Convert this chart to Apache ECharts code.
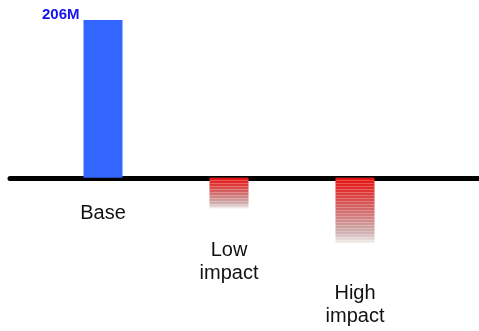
<!DOCTYPE html>
<html>
<head>
<meta charset="utf-8">
<script src="https://cdn.jsdelivr.net/npm/echarts@6/dist/echarts.min.js"></script>
<style>html,body{margin:0;padding:0;background:#fff}#c{width:479px;height:331px}</style>
</head>
<body>
<div id="c"></div>
<script>
var categories = ['Base', 'Low\nimpact', 'High\nimpact'];
var values = [206, -40, -85];
var valueLabels = ['206M', '', ''];

var chart = echarts.init(document.getElementById('c'));
var redGrad = new echarts.graphic.LinearGradient(0, 0, 0, 1, [
  {offset: 0, color: '#e80e0e'},
  {offset: 0.45, color: '#d46060'},
  {offset: 0.85, color: '#cfb3b3'},
  {offset: 1, color: '#f6eeee'}
]);
var spacers = ['{s0| }', '{s1| }', '{s2| }'];
var data = values.map(function (v, i) {
  return {
    value: v,
    itemStyle: v >= 0 ? {color: '#3366ff'} : {
      color: redGrad,
      decal: {symbol: 'rect', dashArrayX: [1, 0], dashArrayY: [1, 2], rotation: 0, color: 'rgba(255,255,255,0.25)', symbolSize: 1}
    },
    label: {show: !!valueLabels[i]}
  };
});
var hiddenY = {
  axisLine: {show: false}, axisTick: {show: false}, axisLabel: {show: false}, splitLine: {show: false}
};
chart.setOption({
  animation: false,
  grid: [
    {left: 40, right: 61, top: 20, bottom: 0, containLabel: false, outerBoundsMode: 'none'},
    {left: 10, right: 0, top: 20, bottom: 0, containLabel: false, outerBoundsMode: 'none'}
  ],
  xAxis: [
    {
      type: 'category', gridIndex: 0, data: categories,
      axisLine: {show: false}, axisTick: {show: false}, axisLabel: {show: false}
    },
    {
      type: 'category', gridIndex: 1, data: [''],
      axisLine: {show: true, onZero: true, lineStyle: {color: '#000', width: 5, cap: 'round'}},
      axisTick: {show: false}, axisLabel: {show: false}
    }
  ],
  yAxis: [
    Object.assign({type: 'value', gridIndex: 0, min: -200, max: 206}, hiddenY),
    Object.assign({type: 'value', gridIndex: 1, min: -200, max: 206}, hiddenY)
  ],
  series: [{
    type: 'bar', xAxisIndex: 0, yAxisIndex: 0,
    barWidth: 39,
    data: data,
    z: 1,
    label: {
      position: [-4, 2], align: 'right', verticalAlign: 'bottom',
      color: '#1414f0', fontWeight: 'bold', fontSize: 15, fontFamily: 'Liberation Sans',
      formatter: function (p) { return valueLabels[p.dataIndex]; }
    }
  }, {
    type: 'scatter', xAxisIndex: 0, yAxisIndex: 0,
    data: categories.map(function () { return 0; }),
    symbolSize: 1,
    itemStyle: {color: 'rgba(0,0,0,0)'},
    silent: true,
    z: 5,
    label: {
      show: true,
      position: 'bottom',
      distance: 23,
      align: 'center',
      color: '#111',
      opacity: 1,
      formatter: function (p) {
        var lines = categories[p.dataIndex].split('\n').map(function (t) { return '{t|' + t + '}'; });
        return spacers[p.dataIndex] + '\n' + lines.join('\n');
      },
      rich: {
        t: {fontSize: 20, lineHeight: 23, color: '#111', fontFamily: 'Liberation Sans, Arial', align: 'center'},
        s0: {fontSize: 1, lineHeight: 1},
        s1: {fontSize: 1, lineHeight: 38},
        s2: {fontSize: 1, lineHeight: 81}
      }
    }
  }]
});
</script>
</body>
</html>
